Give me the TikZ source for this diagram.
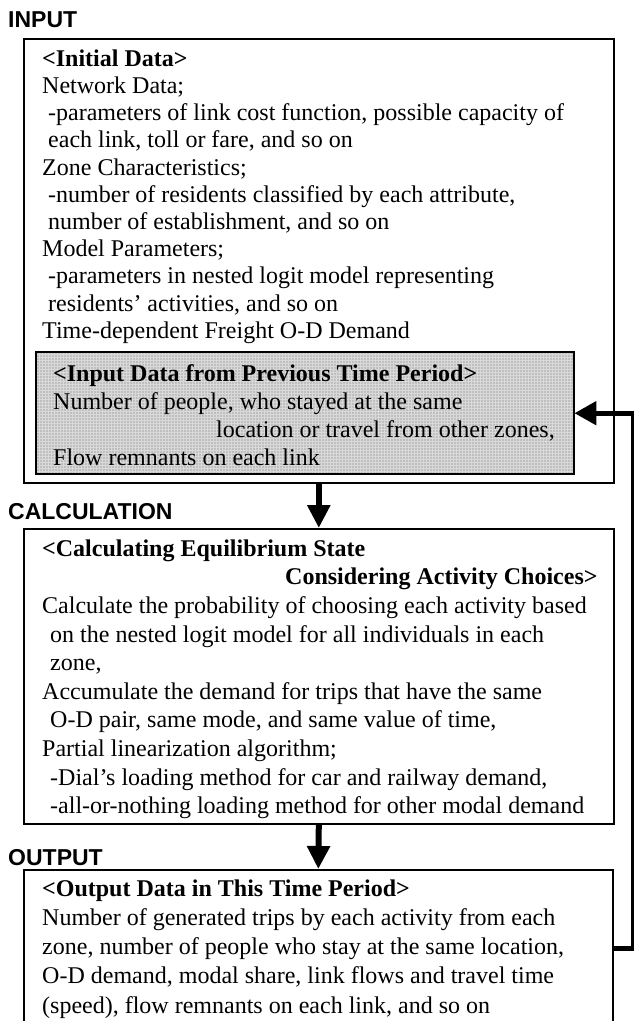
\documentclass[tikz,border=0pt]{standalone}
\usepackage{fontspec}
\setmainfont{Liberation Serif}
\newfontfamily\labelfont{Liberation Sans}
\usetikzlibrary{arrows.meta}
\begin{document}
\begin{tikzpicture}[x=1pt,y=-1pt,
  stage/.style={font=\labelfont\bfseries\fontsize{23}{27}\selectfont, anchor=base west, inner sep=0},
  panel/.style={draw, line width=1.6pt, anchor=north west, inner sep=0, fill=white},
  shaded/.style={anchor=north west, inner sep=0, fill=black!25},
  body/.style={anchor=north west, inner sep=0, align=left},
  flow/.style={line width=6pt, -{Triangle[length=23pt,width=22pt]}},
  feedback/.style={line width=5pt, -{Triangle[length=22pt,width=23pt]}},
]
\useasboundingbox (0,0) rectangle (634,1021);
\clip (0,0) rectangle (634,1021);

% stage headings
\node[stage] (hin)   at (8,27)  {INPUT};
\node[stage] (hcalc) at (8,519) {CALCULATION};
\node[stage] (hout)  at (8,865) {OUTPUT};

% frames
\node[panel, minimum width=590pt, minimum height=444pt] (inbox)   at (23,38)  {};
\node[shaded, minimum width=538pt, minimum height=122pt] (graybox) at (36,352) {};
\begin{scope}
  \clip (graybox.north west) rectangle (graybox.south east);
  \draw[black!15, line width=0.6pt, step=3pt] (graybox.north west) grid (graybox.south east);
\end{scope}
\draw[line width=2pt] (graybox.north west) rectangle (graybox.south east);
\node[panel, minimum width=590pt, minimum height=295pt] (calcbox) at (23,528) {};
\node[panel, minimum width=589pt, minimum height=200pt] (outbox)  at (23,869) {};

% input data
\node[body, font=\fontsize{24}{27.2}\selectfont] (intext) at (42,47) {%
\strut\textbf{<Initial Data>}\\
Network Data;\\
\hspace*{6pt}-parameters of link cost function, possible capacity of\\
\hspace*{6pt}each link, toll or fare, and so on\\
Zone Characteristics;\\
\hspace*{6pt}-number of residents classified by each attribute,\\
\hspace*{6pt}number of establishment, and so on\\
Model Parameters;\\
\hspace*{6pt}-parameters in nested logit model representing\\
\hspace*{6pt}residents’ activities, and so on\\
Time-dependent Freight O-D Demand};

\node[body, font=\fontsize{24}{28}\selectfont] (graytext) at (53,361.4) {%
\strut\textbf{<Input Data from Previous Time Period>}\\
Number of people, who stayed at the same\\
\hspace*{163pt}location or travel from other zones,\\
Flow remnants on each link};

% equilibrium calculation
\node[body, font=\fontsize{24}{28.6}\selectfont] (calctext) at (42,536) {%
\strut\textbf{<Calculating Equilibrium State}\\
\hspace*{243pt}\textbf{Considering Activity Choices>}\\
Calculate the probability of choosing each activity based\\
\hspace*{8pt}on the nested logit model for all individuals in each\\
\hspace*{8pt}zone,\\
Accumulate the demand for trips that have the same\\
\hspace*{8pt}O-D pair, same mode, and same value of time,\\
Partial linearization algorithm;\\
\hspace*{8pt}-Dial’s loading method for car and railway demand,\\
\hspace*{8pt}-all-or-nothing loading method for other modal demand};

% output data
\node[body, font=\fontsize{24}{29.2}\selectfont] (outtext) at (42,875.6) {%
\strut\textbf{<Output Data in This Time Period>}\\
Number of generated trips by each activity from each\\
zone, number of people who stay at the same location,\\
O-D demand, modal share, link flows and travel time\\
(speed), flow remnants on each link, and so on};

% connectors
\draw[flow] (inbox.south) -- (calcbox.north);
\draw[flow] (calcbox.south) -- (outbox.north);
\draw[feedback] ([yshift=-79pt]outbox.north east) -- ++(20,0) |- (graybox.east);
\end{tikzpicture}
\end{document}
